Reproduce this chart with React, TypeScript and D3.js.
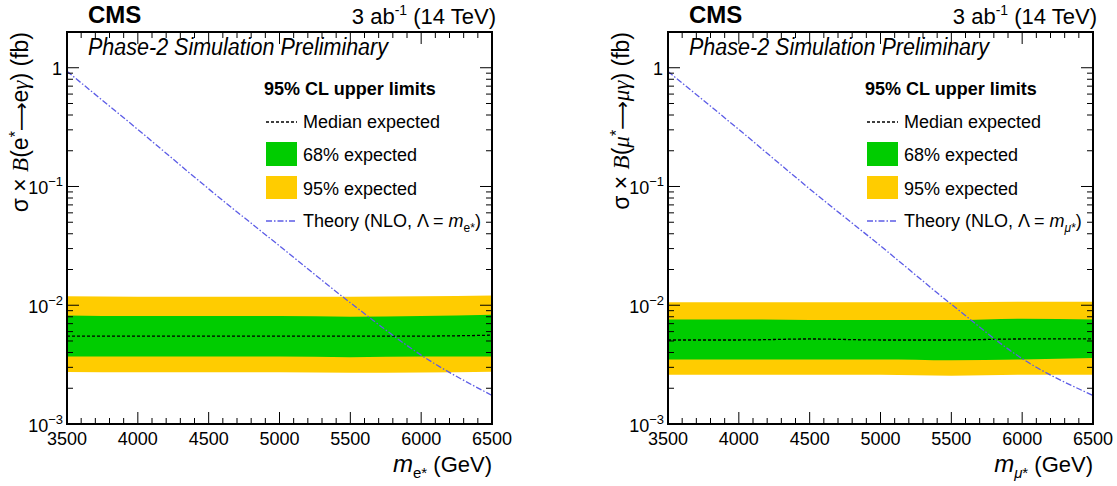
import React from "react";
import * as d3 from "d3";

// ---------- data ----------
const masses = [3500, 4000, 4500, 5000, 5500, 6000, 6500];

// electron channel (fb)
const eYellowHi = [0.0119, 0.0118, 0.0118, 0.0118, 0.0118, 0.0119, 0.0121];
const eGreenHi = [0.0082, 0.0081, 0.0081, 0.0081, 0.008, 0.0081, 0.0083];
const eMedian = [0.0055, 0.0055, 0.0055, 0.0055, 0.0055, 0.0055, 0.0056];
const eGreenLo = [0.0037, 0.0037, 0.0037, 0.0037, 0.00365, 0.0037, 0.0037];
const eYellowLo = [0.00274, 0.00273, 0.00273, 0.00273, 0.0027, 0.00272, 0.00276];
const eTheory = [0.933, 0.302, 0.0955, 0.0316, 0.0105, 0.0038, 0.00174];

// muon channel (fb)
const mYellowHi = [0.0106, 0.0106, 0.0106, 0.0106, 0.0106, 0.0107, 0.0107];
const mGreenHi = [0.0076, 0.0076, 0.0075, 0.0075, 0.0075, 0.0077, 0.0076];
const mMedian = [0.0051, 0.0051, 0.0052, 0.0051, 0.0051, 0.0052, 0.0052];
const mGreenLo = [0.0035, 0.0035, 0.0035, 0.0035, 0.00345, 0.0035, 0.0036];
const mYellowLo = [0.0026, 0.0026, 0.0026, 0.0026, 0.00255, 0.0026, 0.0026];
const mTheory = [0.93, 0.302, 0.0955, 0.0316, 0.0102, 0.00355, 0.00174];

const xTicks = [3500, 4000, 4500, 5000, 5500, 6000, 6500];
const yDecades = [1e-3, 1e-2, 1e-1, 1];
const yDecadeLabels = [["10", "\u22123"], ["10", "\u22122"], ["10", "\u22121"], ["1", ""]];

const GREEN = "#00cc00";
const YELLOW = "#ffcc00";
const THEORY = "#5c5ce6";
const FONT = "'Liberation Sans', Arial, Helvetica, sans-serif";

const PLOT_TOP = 32;
const PLOT_BOTTOM = 424;
const PLOT_W = 425;

type PanelProps = {
  ox: number;
  lep: "e" | "mu";
  yHi: number[];
  gHi: number[];
  med: number[];
  gLo: number[];
  yLo: number[];
  theory: number[];
};

function Panel({ ox, lep, yHi, gHi, med, gLo, yLo, theory }: PanelProps) {
  const x = d3.scaleLinear().domain([3500, 6500]).range([ox, ox + PLOT_W]);
  const y = d3.scaleLog().domain([1e-3, 2]).range([PLOT_BOTTOM, PLOT_TOP]);
  const idx = masses.map((_, i) => i);

  const band = (lo: number[], hi: number[]) =>
    d3
      .area<number>()
      .x((i) => x(masses[i]))
      .y0((i) => y(lo[i]))
      .y1((i) => y(hi[i]))
      .curve(d3.curveMonotoneX)(idx) || "";
  const line = (v: number[]) =>
    d3
      .line<number>()
      .x((i) => x(masses[i]))
      .y((i) => y(v[i]))
      .curve(d3.curveMonotoneX)(idx) || "";

  const minorX = d3.range(3500, 6501, 100).filter((m) => m % 500 !== 0);
  const minorY: number[] = [];
  [1e-3, 1e-2, 1e-1, 1].forEach((d) => {
    for (let k = 2; k <= 9; k++) {
      const v = d * k;
      if (v <= 2) minorY.push(v);
    }
  });
  const x1 = ox + PLOT_W;
  const clipId = `clip-${lep}`;
  const lx = ox + 199; // legend left
  const italicSerif = "'Liberation Serif', 'Times New Roman', serif";

  return (
    <g>
      <defs>
        <clipPath id={clipId}>
          <rect x={ox} y={PLOT_TOP} width={PLOT_W} height={PLOT_BOTTOM - PLOT_TOP} />
        </clipPath>
      </defs>
      <g clipPath={`url(#${clipId})`}>
        <path d={band(yLo, yHi)} fill={YELLOW} />
        <path d={band(gLo, gHi)} fill={GREEN} />
        <path d={line(med)} fill="none" stroke="#000" strokeWidth={1.3} strokeDasharray="3,2" />
        <path d={line(theory)} fill="none" stroke={THEORY} strokeWidth={1.3} strokeDasharray="6,2,1.5,2" />
      </g>

      {/* ticks */}
      {xTicks.map((t) => (
        <g key={"xM" + t}>
          <line x1={x(t)} x2={x(t)} y1={PLOT_BOTTOM} y2={PLOT_BOTTOM - 12} stroke="#000" strokeWidth={1} />
          <line x1={x(t)} x2={x(t)} y1={PLOT_TOP} y2={PLOT_TOP + 12} stroke="#000" strokeWidth={1} />
        </g>
      ))}
      {minorX.map((t) => (
        <g key={"xm" + t}>
          <line x1={x(t)} x2={x(t)} y1={PLOT_BOTTOM} y2={PLOT_BOTTOM - 6} stroke="#000" strokeWidth={1} />
          <line x1={x(t)} x2={x(t)} y1={PLOT_TOP} y2={PLOT_TOP + 6} stroke="#000" strokeWidth={1} />
        </g>
      ))}
      {yDecades.map((t) => (
        <g key={"yM" + t}>
          <line x1={ox} x2={ox + 12} y1={y(t)} y2={y(t)} stroke="#000" strokeWidth={1} />
          <line x1={x1} x2={x1 - 12} y1={y(t)} y2={y(t)} stroke="#000" strokeWidth={1} />
        </g>
      ))}
      {minorY.map((t) => (
        <g key={"ym" + t}>
          <line x1={ox} x2={ox + 6} y1={y(t)} y2={y(t)} stroke="#000" strokeWidth={1} />
          <line x1={x1} x2={x1 - 6} y1={y(t)} y2={y(t)} stroke="#000" strokeWidth={1} />
        </g>
      ))}
      <rect x={ox} y={PLOT_TOP} width={PLOT_W} height={PLOT_BOTTOM - PLOT_TOP} fill="none" stroke="#000" strokeWidth={2} />

      {/* tick labels */}
      {xTicks.map((t) => (
        <text key={"xl" + t} x={x(t)} y={PLOT_BOTTOM + 21} textAnchor="middle" fontSize={18} fontFamily={FONT}>
          {t}
        </text>
      ))}
      {yDecades.map((t, i) => {
        const [base, exp] = yDecadeLabels[i];
        return exp ? (
          <text key={"yl" + t} x={ox - 4} y={y(t) + 8} textAnchor="end" fontSize={18} fontFamily={FONT}>
            {base}
            <tspan fontSize={13} dy={-8}>{exp}</tspan>
          </text>
        ) : (
          <text key={"yl" + t} x={ox - 5} y={y(t) + 7} textAnchor="end" fontSize={18} fontFamily={FONT}>
            {base}
          </text>
        );
      })}

      {/* headers */}
      <text x={ox + 21} y={23} fontSize={24} fontWeight="bold" fontFamily={FONT}>CMS</text>
      <text x={x1 + 4} y={24} textAnchor="end" fontSize={22} fontFamily={FONT}>
        3 ab<tspan fontSize={14} dy={-9}>-1</tspan>
        <tspan dy={9}> (14 TeV)</tspan>
      </text>
      <text x={ox + 21} y={55} fontSize={23} fontStyle="italic" fontFamily={FONT} textLength={300} lengthAdjust="spacingAndGlyphs">
        Phase-2 Simulation Preliminary
      </text>

      {/* legend */}
      <text x={lx - 2} y={95} fontSize={18} fontWeight="bold" fontFamily={FONT}>95% CL upper limits</text>
      <line x1={lx} x2={lx + 31} y1={122} y2={122} stroke="#000" strokeWidth={1.3} strokeDasharray="3,2" />
      <text x={lx + 37} y={128} fontSize={18} fontFamily={FONT}>Median expected</text>
      <rect x={lx} y={142} width={31} height={24} fill={GREEN} />
      <text x={lx + 37} y={161} fontSize={18} fontFamily={FONT}>68% expected</text>
      <rect x={lx} y={176} width={31} height={23} fill={YELLOW} />
      <text x={lx + 37} y={195} fontSize={18} fontFamily={FONT}>95% expected</text>
      <line x1={lx} x2={lx + 31} y1={221} y2={221} stroke={THEORY} strokeWidth={1.3} strokeDasharray="6,2,1.5,2" />
      <text x={lx + 37} y={227} fontSize={18} fontFamily={FONT}>
        Theory (NLO, Λ = <tspan fontStyle="italic">m</tspan>
        {lep === "e" ? (
          <tspan fontSize={12} dy={5}>e*</tspan>
        ) : (
          <tspan fontSize={12} dy={5} fontStyle="italic">μ<tspan fontStyle="normal">*</tspan></tspan>
        )}
        <tspan dy={-5}>)</tspan>
      </text>

      {/* x title */}
      <text x={x1} y={472} textAnchor="end" fontSize={22} fontFamily={FONT}>
        <tspan fontStyle="italic" fontSize={24}>m</tspan>
        {lep === "e" ? (
          <tspan fontSize={15} dy={6}>e*</tspan>
        ) : (
          <tspan fontSize={15} dy={6} fontStyle="italic">μ<tspan fontStyle="normal">*</tspan></tspan>
        )}
        <tspan dy={-6}> (GeV)</tspan>
      </text>

      {/* y title */}
      <text
        transform={`translate(${ox - 39},${PLOT_TOP}) rotate(-90)`}
        textAnchor="end"
        fontSize={23}
        fontFamily={FONT}
      >
        σ × <tspan fontFamily={italicSerif} fontStyle="italic">B</tspan>(
        {lep === "e" ? "e" : <tspan fontFamily={italicSerif} fontStyle="italic">μ</tspan>}
        <tspan fontSize={16} dy={-7}>*</tspan>
        <tspan dy={7} fontFamily="'DejaVu Sans', sans-serif" fontSize={20}>⟶</tspan>
        {lep === "e" ? "e" : <tspan fontFamily={italicSerif} fontStyle="italic">μ</tspan>}
        <tspan fontFamily={italicSerif} fontStyle="italic">γ</tspan>) (fb)
      </text>
    </g>
  );
}

export default function App() {
  return (
    <svg
      width={1117}
      height={486}
      style={{ position: "absolute", left: 0, top: 0, background: "#fff" }}
    >
      <rect width={1117} height={486} fill="#fff" />
      <Panel ox={67} lep="e" yHi={eYellowHi} gHi={eGreenHi} med={eMedian} gLo={eGreenLo} yLo={eYellowLo} theory={eTheory} />
      <Panel ox={668} lep="mu" yHi={mYellowHi} gHi={mGreenHi} med={mMedian} gLo={mGreenLo} yLo={mYellowLo} theory={mTheory} />
    </svg>
  );
}
